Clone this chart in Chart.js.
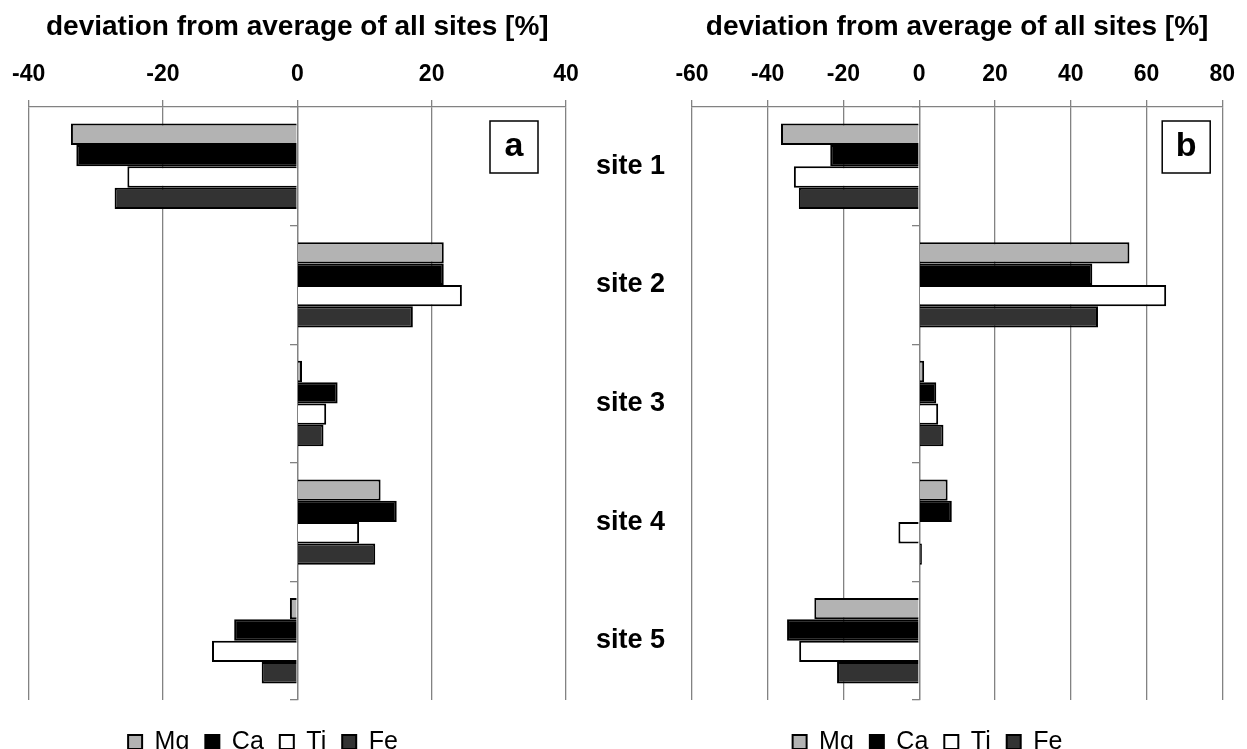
<!DOCTYPE html>
<html>
<head>
<meta charset="utf-8">
<title>deviation from average of all sites</title>
<script src="https://cdn.jsdelivr.net/npm/chart.js@4.4.0/dist/chart.umd.min.js"></script>
<style>
  html, body { margin: 0; padding: 0; background: #fff; overflow: hidden; }
  #wrapA { position: absolute; left: 0; top: 0; width: 600px; height: 770px; }
  #wrapB { position: absolute; left: 575px; top: 0; width: 672px; height: 770px; }
</style>
</head>
<body>
<div id="wrapA"><canvas id="chartA"></canvas></div>
<div id="wrapB"><canvas id="chartB"></canvas></div>
<script>
const sites = ['site 1', 'site 2', 'site 3', 'site 4', 'site 5'];
const elements = ['Mg', 'Ca', 'Ti', 'Fe'];

// panel a  (deviation in %)
const mgA = [-33.7, 21.8, 0.7, 12.4, -1.1];
const caA = [-32.9, 21.8, 6.0, 14.8, -9.4];
const tiA = [-25.3, 24.5, 4.3, 9.2, -12.7];
const feA = [-27.2, 17.2, 3.9, 11.6, -5.3];

// panel b
const mgB = [-36.5, 55.5, 1.3, 7.5, -27.7];
const caB = [-23.5, 45.7, 4.5, 8.6, -34.9];
const tiB = [-33.1, 65.2, 5.0, -5.5, -31.7];
const feB = [-31.8, 47.2, 6.4, 0.7, -21.7];

const ticksA = [-40, -20, 0, 20, 40];
const ticksB = [-60, -40, -20, 0, 20, 40, 60, 80];

const fills = ['#b3b3b3', '#000000', '#ffffff', '#333333'];
const FONT = "'Liberation Sans', Arial, sans-serif";
const GRID = '#828282';

Chart.defaults.font.family = FONT;
Chart.defaults.color = '#000';
Chart.defaults.animation = false;

// little framed letter in the upper right corner of each panel
const panelTag = {
  id: 'panelTag',
  afterDraw(chart, args, opts) {
    const { ctx, chartArea } = chart;
    const w = 48, h = 52;
    const x = chartArea.right - opts.right - w;
    const y = chartArea.top + opts.top;
    ctx.save();
    ctx.fillStyle = '#fff';
    ctx.fillRect(x, y, w, h);
    ctx.strokeStyle = '#000';
    ctx.lineWidth = 1.5;
    ctx.strokeRect(x, y, w, h);
    ctx.fillStyle = '#000';
    ctx.font = 'bold 34px ' + FONT;
    ctx.textAlign = 'center';
    ctx.textBaseline = 'middle';
    ctx.fillText(opts.text, x + w / 2, y + h / 2);
    ctx.restore();
  }
};

// Excel puts the legend a bit off centre, nudge it
const legendShift = {
  id: 'legendShift',
  afterLayout(chart, args, opts) {
    const lg = chart.legend;
    lg.left += opts.dx;
    lg.right += opts.dx;
    lg.top += opts.dy;
    lg.bottom += opts.dy;
  }
};

function makeDatasets(rows) {
  return rows.map((vals, i) => ({
    label: elements[i],
    data: vals,
    backgroundColor: fills[i],
    borderColor: '#000',
    borderWidth: 2,
    barPercentage: 1,
    categoryPercentage: 0.72
  }));
}

function valueAxis(tickVals) {
  return {
    position: 'top',
    min: tickVals[0],
    max: tickVals[tickVals.length - 1],
    ticks: { stepSize: tickVals[1] - tickVals[0], font: { size: 23, weight: 'bold' }, color: '#000', padding: 12 },
    grid: { color: GRID, lineWidth: 1.3, tickLength: 7 },
    border: { color: GRID, width: 1.3 },
    title: {
      display: true,
      text: 'deviation from average of all sites [%]',
      font: { size: 28, weight: 'bold' },
      color: '#000',
      padding: { top: 10, bottom: 0 }
    },
    afterFit(scale) { scale.height = 107; }
  };
}

const zeroAxis = {
  position: { x: 0 },
  offset: true,
  ticks: { display: false },
  grid: { offset: true, drawOnChartArea: false, color: GRID, lineWidth: 1.3, tickLength: 7 },
  border: { color: GRID, width: 1.3 }
};

const legendOpts = {
  position: 'bottom',
  labels: { boxWidth: 14, boxHeight: 14, padding: 16, font: { size: 25 }, color: '#000' }
};

new Chart(document.getElementById('chartA'), {
  type: 'bar',
  data: { labels: sites, datasets: makeDatasets([mgA, caA, tiA, feA]) },
  options: {
    indexAxis: 'y',
    responsive: true,
    maintainAspectRatio: false,
    layout: { padding: { left: 28, right: 34, top: 0, bottom: 19 } },
    scales: {
      x: valueAxis(ticksA),
      y: zeroAxis
    },
    plugins: {
      legend: legendOpts,
      tooltip: { enabled: false },
      panelTag: { text: 'a', right: 28, top: 14 },
      legendShift: { dx: -34, dy: 13.5 }
    }
  },
  plugins: [panelTag, legendShift]
});

new Chart(document.getElementById('chartB'), {
  type: 'bar',
  data: { labels: sites, datasets: makeDatasets([mgB, caB, tiB, feB]) },
  options: {
    indexAxis: 'y',
    responsive: true,
    maintainAspectRatio: false,
    layout: { padding: { left: 7, right: 18, top: 0, bottom: 19 } },
    scales: {
      x: valueAxis(ticksB),
      y: zeroAxis,
      yl: {
        type: 'category',
        position: 'left',
        offset: true,
        ticks: { font: { size: 27, weight: 'bold' }, color: '#000', padding: 27 },
        grid: { display: false, drawTicks: false },
        border: { display: false },
        afterFit(scale) { scale.width = 110; }
      }
    },
    plugins: {
      legend: legendOpts,
      tooltip: { enabled: false },
      panelTag: { text: 'b', right: 12, top: 14 },
      legendShift: { dx: 22, dy: 13.5 }
    }
  },
  plugins: [panelTag, legendShift]
});
</script>
</body>
</html>
